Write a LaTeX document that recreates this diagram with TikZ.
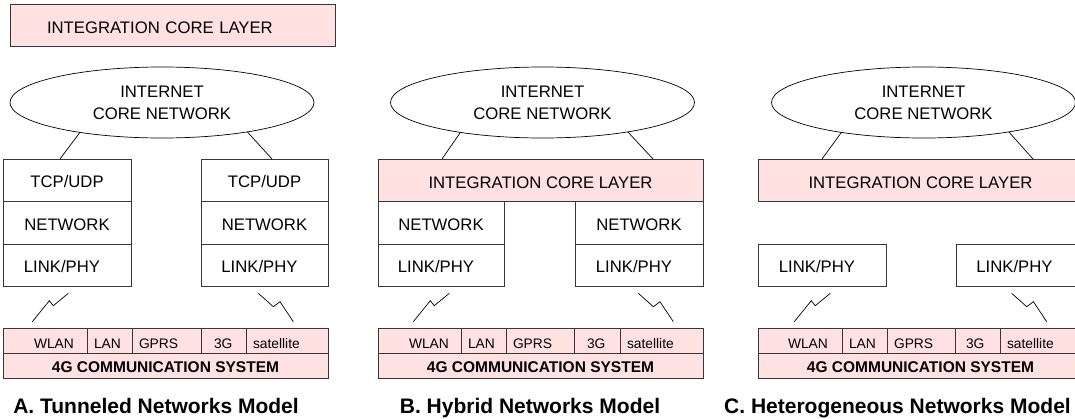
\documentclass[tikz,border=0pt]{standalone}
\usepackage{fontspec}
\setmainfont{Liberation Sans}
\usetikzlibrary{shapes.geometric}
\definecolor{corepink}{RGB}{255,225,225}
\definecolor{edgegray}{RGB}{55,55,55}
\newcommand\mainfs{\fontsize{16.7pt}{22pt}\selectfont}
\newcommand\cellfs{\fontsize{13.8pt}{16pt}\selectfont}
\newcommand\sysfs{\fontsize{15.5pt}{18pt}\selectfont\bfseries}
\newcommand\capfs{\fontsize{21pt}{25pt}\selectfont\bfseries}
\begin{document}
\begin{tikzpicture}[x=1pt,y=-1pt,
  box/.style={draw=edgegray, line width=0.8pt, rectangle, inner sep=0pt, outer sep=0pt, anchor=north west, font=\mainfs, text height=14.5pt, text depth=0pt},
  layerbox/.style={box, minimum width=128pt, minimum height=42.5pt},
  corebox/.style={box, fill=corepink, minimum width=325pt, minimum height=42.5pt, text height=16pt},
  cloud/.style={ellipse, draw=black, line width=0.7pt, minimum width=304pt, minimum height=71pt, inner sep=0pt, outer sep=0pt, font=\mainfs, align=center},
  cell/.style={box, fill=corepink, minimum height=25pt, font=\cellfs, text height=15pt, align=left},
  sysbox/.style={box, fill=corepink, minimum width=325pt, minimum height=25pt, font=\sysfs, text height=13pt},
  caption/.style={font=\capfs, anchor=base, inner sep=0pt},
  link/.style={draw=black, line width=0.7pt},
  radio/.style={draw=black, line width=0.7pt, line join=miter},
]
\useasboundingbox (0,0) rectangle (1075,418);
\clip (0,0) rectangle (1075,418);
\fill[white] (0,0) rectangle (1075,418);

% legend
\node[corebox, text width=325pt, align=left, minimum height=42pt] (legend) at (10,4) {\hspace*{37pt}INTEGRATION CORE LAYER};

% ---------- Panel A ----------
\node[cloud] (cloudA) at (162,102.5) {INTERNET\\CORE NETWORK};
\node[layerbox] (tcpAL) at (3,159) {TCP/UDP};
\node[layerbox] (netAL) at (3,201.5) {NETWORK};
\node[layerbox] (phyAL) at (3,244) {LINK/PHY\hspace*{10pt}};
\node[layerbox, minimum width=127pt] (tcpAR) at (201,159) {TCP/UDP};
\node[layerbox, minimum width=127pt] (netAR) at (201,201.5) {NETWORK};
\node[layerbox, minimum width=127pt] (phyAR) at (201,244) {LINK/PHY\hspace*{10pt}};
\draw[link] (cloudA.200) -- ([xshift=57pt]tcpAL.north west);
\draw[link] (cloudA.341) -- ([xshift=71pt]tcpAR.north west);
\coordinate (zAL) at (32.3,321.7);
\draw[radio] (zAL) -- ++(17,-21) -- ++(4,5) -- ++(15,-12.4);
\coordinate (zAR) at (258.3,293.3);
\draw[radio] (zAR) -- ++(15,13.4) -- ++(6.7,-5) -- ++(13.3,20);
\node[cell, text width=84pt] (wlanA) at (3,328) {\hspace*{31pt}WLAN};
\node[cell, text width=45pt] (lanA) at (wlanA.north east) {\hspace*{7pt}LAN};
\node[cell, text width=69pt] (gprsA) at (lanA.north east) {\hspace*{7pt}GPRS};
\node[cell, text width=45pt] (g3A) at (gprsA.north east) {\hspace*{13pt}3G};
\node[cell, text width=82pt] (satA) at (g3A.north east) {\hspace*{7pt}satellite};
\node[sysbox] (sysA) at (3,353) {4G COMMUNICATION SYSTEM};
\node[caption] (capA) at (156,413) {A. Tunneled Networks Model};

% ---------- Panel B ----------
\node[cloud] (cloudB) at (542.5,102.5) {INTERNET\\CORE NETWORK};
\node[corebox] (coreB) at (378,159) {INTEGRATION CORE LAYER};
\node[layerbox, minimum width=126pt] (netBL) at (378,201.5) {NETWORK};
\node[layerbox, minimum width=126pt] (phyBL) at (378,244) {LINK/PHY\hspace*{10pt}};
\node[layerbox] (netBR) at (575,201.5) {NETWORK};
\node[layerbox] (phyBR) at (575,244) {LINK/PHY\hspace*{10pt}};
\draw[link] (cloudB.200) -- ([xshift=64pt]coreB.north west);
\draw[link] (cloudB.341) -- ([xshift=-50pt]coreB.north east);
\coordinate (zBL) at (413.3,321.7);
\draw[radio] (zBL) -- ++(17,-21) -- ++(4,5) -- ++(15,-12.4);
\coordinate (zBR) at (638.3,293.3);
\draw[radio] (zBR) -- ++(15,13.4) -- ++(6.7,-5) -- ++(13.3,20);
\node[cell, text width=83pt] (wlanB) at (378,328) {\hspace*{31pt}WLAN};
\node[cell, text width=45pt] (lanB) at (wlanB.north east) {\hspace*{7pt}LAN};
\node[cell, text width=68pt] (gprsB) at (lanB.north east) {\hspace*{7pt}GPRS};
\node[cell, text width=46pt] (g3B) at (gprsB.north east) {\hspace*{13pt}3G};
\node[cell, text width=83pt] (satB) at (g3B.north east) {\hspace*{7pt}satellite};
\node[sysbox] (sysB) at (378,353) {4G COMMUNICATION SYSTEM};
\node[caption] (capB) at (530,413) {B. Hybrid Networks Model};

% ---------- Panel C ----------
\node[cloud] (cloudC) at (923.5,102.5) {INTERNET\\CORE NETWORK};
\node[corebox] (coreC) at (758,159) {INTEGRATION CORE LAYER};
\node[layerbox] (phyCL) at (758,244) {LINK/PHY\hspace*{10pt}};
\node[layerbox, minimum width=127pt] (phyCR) at (956,244) {LINK/PHY\hspace*{10pt}};
\draw[link] (cloudC.200) -- ([xshift=64pt]coreC.north west);
\draw[link] (cloudC.341) -- ([xshift=-50pt]coreC.north east);
\coordinate (zCL) at (794.3,321.7);
\draw[radio] (zCL) -- ++(17,-21) -- ++(4,5) -- ++(15,-12.4);
\coordinate (zCR) at (1011.7,293.3);
\draw[radio] (zCR) -- ++(15,13.4) -- ++(6.7,-5) -- ++(13.3,20);
\node[cell, text width=84pt] (wlanC) at (758,328) {\hspace*{30pt}WLAN};
\node[cell, text width=45pt] (lanC) at (wlanC.north east) {\hspace*{7pt}LAN};
\node[cell, text width=68pt] (gprsC) at (lanC.north east) {\hspace*{7pt}GPRS};
\node[cell, text width=45pt] (g3C) at (gprsC.north east) {\hspace*{11pt}3G};
\node[cell, text width=83pt] (satC) at (g3C.north east) {\hspace*{7pt}satellite};
\node[sysbox] (sysC) at (758,353) {4G COMMUNICATION SYSTEM};
\node[caption] (capC) at (897.5,413) {C. Heterogeneous Networks Model};
\end{tikzpicture}
\end{document}
